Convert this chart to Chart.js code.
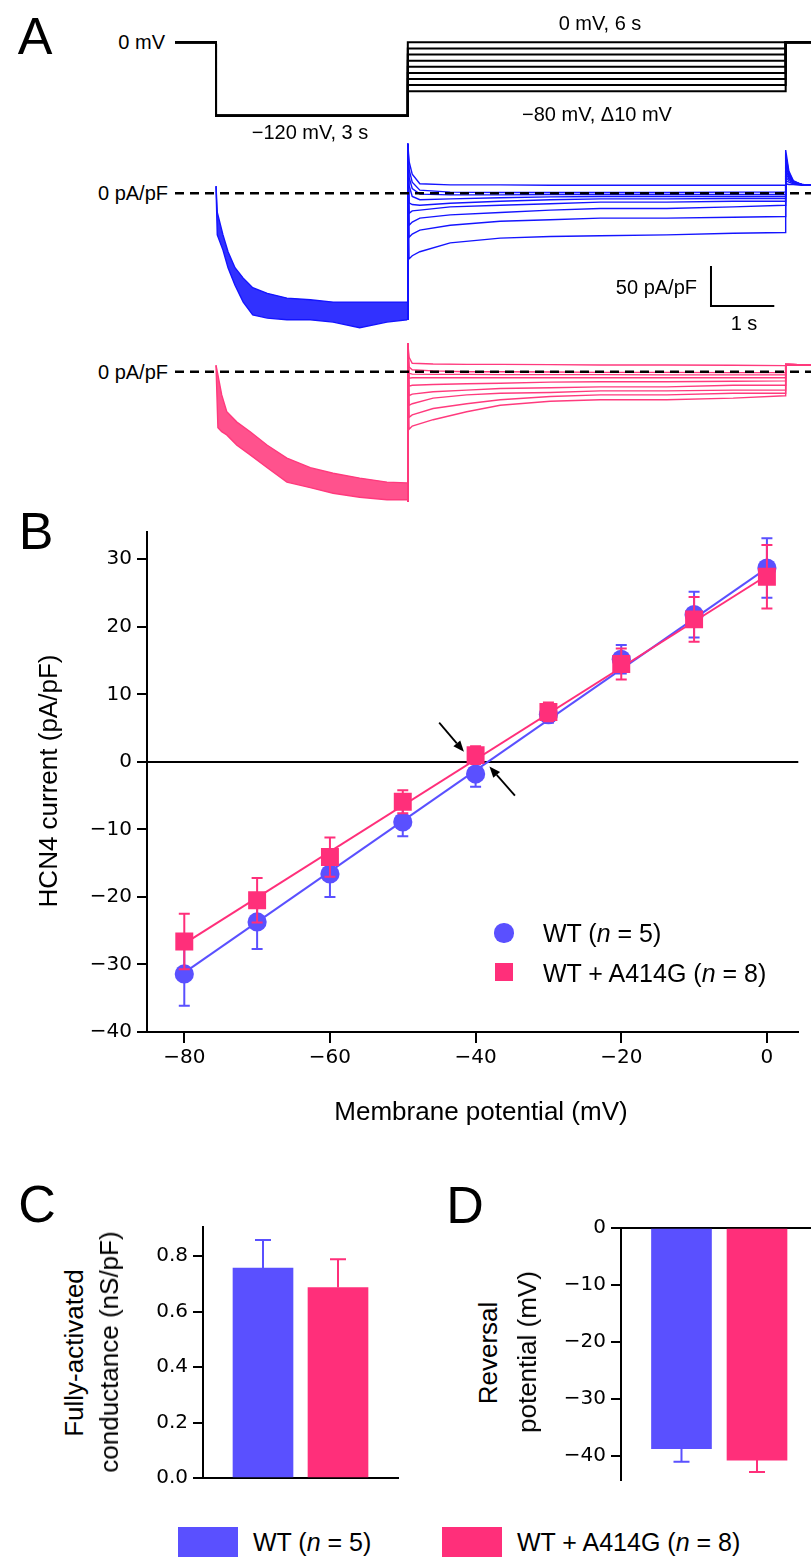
<!DOCTYPE html>
<html>
<head>
<meta charset="utf-8">
<script src="https://cdn.jsdelivr.net/npm/chart.js@4.4.1/dist/chart.umd.min.js"></script>
<style>
  html, body { margin: 0; padding: 0; background: #fff; }
  #fig { position: relative; width: 811px; height: 1557px; overflow: hidden; font-family: "Liberation Sans", Arial, sans-serif; color: #000; }
  #fig canvas { position: absolute; }
  .lbl { position: absolute; white-space: nowrap; line-height: 1; }
  .caja { position: absolute; }
</style>
</head>
<body>
<div id="fig">
  <canvas id="protocolo" style="left:175px;top:0px" width="636" height="135"></canvas>
  <canvas id="trazoWT" style="left:175px;top:135px" width="636" height="200"></canvas>
  <canvas id="trazoMut" style="left:175px;top:335px" width="636" height="175"></canvas>
  <canvas id="graficoIV" style="left:0px;top:500px" width="811" height="620"></canvas>
  <canvas id="graficoG" style="left:100px;top:1200px" width="310" height="300"></canvas>
  <canvas id="graficoErev" style="left:520px;top:1200px" width="291" height="300"></canvas>
</div>
<script>
// Colores
const azul = '#5a50ff';
const rosa = '#ff2f7a';
const azulTrazo = '#1414ff';
const rosaTrazo = '#ff3a7d';

// ---- Panel A: protocolo (s, mV) ----
const tiempoInicio = -0.648, tiempoFinal = 9.40;
const tiempoPaso = 3.03, tiempoFin = 9.0;
const voltajeHiper = -120;
const voltajesPaso = [-80, -70, -60, -50, -40, -30, -20, -10, 0];

// ---- Panel A: corrientes WT (pA/pF) ----
const wtBandaT = [0.00, 0.02, 0.11, 0.19, 0.30, 0.43, 0.58, 0.81, 1.12, 1.49, 1.85, 2.27, 2.70, 3.02];
const wtBandaAlta = [9, -24, -52, -73, -93, -106, -118, -125, -131, -133, -136, -136, -136, -136];
const wtBandaBaja = [9, -52, -71, -93, -115, -136, -152, -156, -158, -158, -161, -168, -161, -158];
const wtInicio = -158, wtPico = 62;
const wtPasoT = [3.05, 3.10, 3.22, 3.70, 4.49, 5.28, 6.07, 7.12, 8.17, 8.99];
const wtPasos = [
  [-82, -78, -73, -62, -56, -54, -53, -52, -50, -49],
  [-55, -51, -46, -40, -35, -33, -31, -31, -30, -29],
  [-40, -36, -31, -27, -24, -21, -19, -19, -17, -15],
  [-25, -22, -21, -17, -15, -13, -11, -11, -10, -10],
  [-12, -14, -15, -12.5, -10, -8, -7, -7, -6.5, -6.5],
  [10, -4, -8, -7, -5.5, -4.5, -4, -4, -4, -4],
  [20, 6, -1, -2, -2, -1.5, -1.5, -1.5, -1.5, -1.5],
  [30, 14, 4, 1.5, 1, 1, 1, 1, 1.5, 1.5],
  [40, 24, 12, 10.5, 10.5, 10, 10, 10, 10, 10]
];
const wtColaT = [9.0, 9.05, 9.12, 9.25, 9.40];
const wtColas = [
  [54, 28, 16, 11, 10],
  [48, 26, 15, 11, 10],
  [42, 24, 15, 11, 10],
  [36, 22, 14, 11, 10],
  [30, 20, 14, 11, 10],
  [25, 18, 13, 11, 10],
  [20, 16, 13, 11, 10],
  [16, 14, 12, 11, 10],
  [12, 11, 11, 10, 10]
];
// barra de escala: 1 s, 50 pA/pF
const escalaT = 7.82, escalaI = -141, escalaDT = 1, escalaDI = 50;

// ---- Panel A: corrientes WT + A414G (pA/pF) ----
const mutBandaT = [0.00, 0.03, 0.09, 0.17, 0.33, 0.54, 0.81, 1.12, 1.49, 1.85, 2.27, 2.70, 3.02];
const mutBandaAlta = [8, -4, -29, -50, -63, -75, -92, -108, -120, -127, -133, -138, -139];
const mutBandaBaja = [8, -70, -75, -79, -92, -104, -120, -138, -145, -152, -157, -160, -160];
const mutInicio = -163, mutPico = 35.5;
const mutPasoT = [3.05, 3.10, 3.43, 3.96, 4.49, 5.28, 6.07, 7.12, 8.17, 8.99];
const mutPasos = [
  [-72, -68, -60, -50, -42, -37, -35, -35, -33, -30],
  [-57, -54, -46, -40, -35, -31, -29, -29, -27, -27],
  [-42, -40, -33, -29, -27, -26, -24, -24, -23, -23],
  [-30, -28, -25, -23, -21, -20, -19, -19, -17, -17],
  [-18, -17, -16, -15, -14.5, -13, -12.5, -12.5, -12, -11.5],
  [-8, -7.5, -7.5, -7.5, -7.5, -7.5, -7.5, -7.5, -7.5, -7.5],
  [-2, -3, -3.3, -3.3, -3.7, -3.7, -3.7, -4, -4, -4],
  [6, 2.5, 1, 0, 0, -0.3, -0.8, -0.8, -1.2, -1.2],
  [18, 10.5, 9.6, 9.2, 9.2, 8.8, 8.4, 8.4, 8, 7.6]
];
const mutColaT = [9.0, 9.40];
const mutCola = [9, 8.5];

// ---- Panel B: curva I-V ----
const voltajes = [-80, -70, -60, -50, -40, -30, -20, -10, 0];
const wtMedia = [-31.4, -23.7, -16.6, -8.9, -1.8, 7.0, 15.2, 21.8, 28.7];
const wtError = [4.7, 4.0, 3.4, 2.1, 1.9, 1.2, 2.1, 3.4, 4.4];
const mutMedia = [-26.6, -20.5, -14.1, -5.9, 1.0, 7.4, 14.5, 21.1, 27.4];
const mutError = [4.1, 3.3, 2.9, 1.7, 1.3, 1.4, 2.3, 3.3, 4.7];
const ajusteV = [-80, 0];
const wtAjuste = [-31.2, 28.7];
const mutAjuste = [-26.9, 27.6];
const flechas = [[-45.0, 5.8, -41.6, 1.5], [-34.6, -5.0, -38.1, -0.7]];
const ticksIVx = [-80, -60, -40, -20, 0];
const ticksIVy = [-40, -30, -20, -10, 0, 10, 20, 30];

// ---- Paneles C y D ----
const grupos = ['WT (n = 5)', 'WT + A414G (n = 8)'];
const conductancia = [0.757, 0.687];
const conductanciaError = [0.101, 0.102];
const ticksG = [0, 0.2, 0.4, 0.6, 0.8];
const reversion = [-38.8, -40.8];
const reversionError = [2.3, 2.1];
const ticksErev = [-40, -30, -20, -10, 0];

// ---- utilidades ----
const puntos = (xs, ys) => xs.map((x, i) => ({ x: x, y: ys[i] }));
const menos = v => (v < 0 ? '\u2212' + Math.abs(v) : String(v));
const fuenteTicks = { family: 'DejaVu Sans', size: 20 };

// deja solo los ticks de la lista
function fijarTicks(lista) {
  return s => { s.ticks = lista.map(v => ({ value: v })); };
}

function opcionesTrazo(ymin, ymax) {
  return {
    responsive: false, animation: false, events: [],
    layout: { padding: 0 },
    plugins: { legend: { display: false }, tooltip: { enabled: false } },
    elements: { point: { radius: 0 }, line: { tension: 0 } },
    scales: {
      x: { type: 'linear', display: false, min: tiempoInicio, max: tiempoFinal },
      y: { type: 'linear', display: false, min: ymin, max: ymax }
    }
  };
}

function trazo(inicio, pico, pasoT, valores, colaT, cola, color) {
  return {
    data: [{ x: tiempoPaso, y: inicio }, { x: tiempoPaso, y: pico }, ...puntos(pasoT, valores), ...puntos(colaT, cola)],
    showLine: true, borderColor: color, borderWidth: 1.4, pointRadius: 0
  };
}

function lineaCero() {
  return { data: [{ x: tiempoInicio, y: 0 }, { x: tiempoFinal, y: 0 }], showLine: true, borderColor: '#000', borderWidth: 2.5, borderDash: [9, 6], pointRadius: 0 };
}

// Barras de error (dibujadas con las escalas del gráfico)
function dibujarErrores(chart, indice) {
  const ds = chart.data.datasets[indice];
  if (!ds.errores) return;
  const ctx = chart.ctx, x = chart.scales.x, y = chart.scales.y;
  ctx.save();
  ctx.lineWidth = 2;
  ds.data.forEach((p, k) => {
    const e = ds.errores[k];
    const px = x.getPixelForValue(p.x);
    let yA, yB;
    if (ds.soloFuera) {
      yA = y.getPixelForValue(p.y);
      yB = y.getPixelForValue(p.y + Math.sign(p.y) * e);
    } else {
      yA = y.getPixelForValue(p.y + e);
      yB = y.getPixelForValue(p.y - e);
    }
    ctx.strokeStyle = Array.isArray(ds.colorError) ? ds.colorError[k] : ds.colorError;
    const m = ds.anchoTope / 2;
    ctx.beginPath();
    ctx.moveTo(px, yA); ctx.lineTo(px, yB);
    ctx.moveTo(px - m, yB); ctx.lineTo(px + m, yB);
    if (!ds.soloFuera) { ctx.moveTo(px - m, yA); ctx.lineTo(px + m, yA); }
    ctx.stroke();
  });
  ctx.restore();
}
const barrasError = {
  id: 'barrasError',
  beforeDatasetDraw(chart, args) { if (!chart.data.datasets[args.index].errorEncima) dibujarErrores(chart, args.index); },
  afterDatasetDraw(chart, args) { if (chart.data.datasets[args.index].errorEncima) dibujarErrores(chart, args.index); }
};

const ejeCero = {
  id: 'ejeCero',
  beforeDatasetsDraw(chart) {
    const a = chart.chartArea, py = chart.scales.y.getPixelForValue(0), ctx = chart.ctx;
    ctx.save(); ctx.strokeStyle = '#000'; ctx.lineWidth = 2;
    ctx.beginPath(); ctx.moveTo(a.left, py); ctx.lineTo(a.right, py); ctx.stroke();
    ctx.restore();
  }
};

const dibujoFlechas = {
  id: 'flechas',
  afterDatasetsDraw(chart) {
    const ctx = chart.ctx, x = chart.scales.x, y = chart.scales.y;
    ctx.save(); ctx.strokeStyle = '#000'; ctx.fillStyle = '#000'; ctx.lineWidth = 1.8;
    flechas.forEach(f => {
      const x0 = x.getPixelForValue(f[0]), y0 = y.getPixelForValue(f[1]);
      const x1 = x.getPixelForValue(f[2]), y1 = y.getPixelForValue(f[3]);
      const ang = Math.atan2(y1 - y0, x1 - x0);
      const largo = 11, ancho = 4.5;
      const bx = x1 - largo * Math.cos(ang), by = y1 - largo * Math.sin(ang);
      ctx.beginPath(); ctx.moveTo(x0, y0); ctx.lineTo(bx, by); ctx.stroke();
      ctx.beginPath();
      ctx.moveTo(x1, y1);
      ctx.lineTo(bx + ancho * Math.sin(ang), by - ancho * Math.cos(ang));
      ctx.lineTo(bx - ancho * Math.sin(ang), by + ancho * Math.cos(ang));
      ctx.closePath(); ctx.fill();
    });
    ctx.restore();
  }
};

const barraEscala = {
  id: 'barraEscala',
  afterDatasetsDraw(chart) {
    const ctx = chart.ctx, x = chart.scales.x, y = chart.scales.y;
    const x0 = x.getPixelForValue(escalaT), x1 = x.getPixelForValue(escalaT + escalaDT);
    const y0 = y.getPixelForValue(escalaI), y1 = y.getPixelForValue(escalaI + escalaDI);
    ctx.save(); ctx.strokeStyle = '#000'; ctx.lineWidth = 2;
    ctx.beginPath(); ctx.moveTo(x0, y1); ctx.lineTo(x0, y0); ctx.lineTo(x1, y0); ctx.stroke();
    ctx.restore();
  }
};

// ---- Protocolo de voltaje ----
new Chart(document.getElementById('protocolo'), {
  type: 'scatter',
  data: {
    datasets: voltajesPaso.map(v => ({
      data: [
        { x: tiempoInicio, y: 0 }, { x: 0, y: 0 }, { x: 0, y: voltajeHiper }, { x: tiempoPaso, y: voltajeHiper },
        { x: tiempoPaso, y: v }, { x: tiempoFin, y: v }, { x: tiempoFin, y: 0 }, { x: tiempoFinal, y: 0 }
      ],
      showLine: true, borderColor: '#000', borderWidth: 2, pointRadius: 0
    }))
  },
  options: opcionesTrazo(-151.5, 69.1)
});

// ---- Trazos WT ----
new Chart(document.getElementById('trazoWT'), {
  type: 'scatter',
  data: {
    datasets: [
      lineaCero(),
      ...wtPasos.map((vals, k) => trazo(wtInicio, wtPico, wtPasoT, vals, wtColaT, wtColas[k], azulTrazo)),
      { data: puntos(wtBandaT, wtBandaAlta), showLine: true, borderColor: azulTrazo, borderWidth: 1.4, pointRadius: 0, fill: '+1', backgroundColor: 'rgba(20,20,255,0.88)' },
      { data: puntos(wtBandaT, wtBandaBaja), showLine: true, borderColor: azulTrazo, borderWidth: 1.4, pointRadius: 0 }
    ]
  },
  options: opcionesTrazo(-177.1, 72.9),
  plugins: [barraEscala]
});

// ---- Trazos WT + A414G ----
new Chart(document.getElementById('trazoMut'), {
  type: 'scatter',
  data: {
    datasets: [
      lineaCero(),
      ...mutPasos.map(vals => trazo(mutInicio, mutPico, mutPasoT, vals, mutColaT, mutCola, rosaTrazo)),
      { data: puntos(mutBandaT, mutBandaAlta), showLine: true, borderColor: rosaTrazo, borderWidth: 1.4, pointRadius: 0, fill: '+1', backgroundColor: 'rgba(255,58,125,0.88)' },
      { data: puntos(mutBandaT, mutBandaBaja), showLine: true, borderColor: rosaTrazo, borderWidth: 1.4, pointRadius: 0 }
    ]
  },
  options: opcionesTrazo(-172.9, 45.9)
});

// ---- Panel B: I-V ----
new Chart(document.getElementById('graficoIV'), {
  type: 'scatter',
  data: {
    datasets: [
      { data: puntos(voltajes, mutMedia), errores: mutError, colorError: rosa, anchoTope: 11,
        pointStyle: 'rect', pointRadius: 12.7, pointBackgroundColor: rosa, pointBorderWidth: 0, order: 0 },
      { data: puntos(ajusteV, mutAjuste), showLine: true, borderColor: rosa, borderWidth: 2, pointRadius: 0, order: 1 },
      { data: puntos(voltajes, wtMedia), errores: wtError, colorError: azul, anchoTope: 11,
        pointStyle: 'circle', pointRadius: 9.6, pointBackgroundColor: azul, pointBorderWidth: 0, order: 2 },
      { data: puntos(ajusteV, wtAjuste), showLine: true, borderColor: azul, borderWidth: 2, pointRadius: 0, order: 3 }
    ]
  },
  options: {
    responsive: false, animation: false, events: [],
    layout: { padding: { top: 32, left: 0, right: 0, bottom: 0 } },
    plugins: { legend: { display: false }, tooltip: { enabled: false } },
    scales: {
      x: {
        type: 'linear', min: -85.12, max: 4.31,
        afterBuildTicks: fijarTicks(ticksIVx),
        afterFit: s => { s.height = 88; },
        grid: { display: true, drawOnChartArea: false, drawTicks: true, tickLength: 11, color: '#000', lineWidth: 2 },
        border: { display: true, color: '#000', width: 2 },
        ticks: { color: '#000', font: fuenteTicks, padding: 3, callback: menos, autoSkip: false, maxRotation: 0, includeBounds: false }
      },
      y: {
        type: 'linear', min: -40, max: 34.04,
        afterBuildTicks: fijarTicks(ticksIVy),
        afterFit: s => { s.width = 147; },
        grid: { display: true, drawOnChartArea: false, drawTicks: true, tickLength: 10, color: '#000', lineWidth: 2 },
        border: { display: true, color: '#000', width: 2 },
        ticks: { color: '#000', font: fuenteTicks, padding: 5, callback: menos, autoSkip: false, includeBounds: false }
      }
    }
  },
  plugins: [ejeCero, barrasError, dibujoFlechas]
});

// ---- Panel C: conductancia ----
new Chart(document.getElementById('graficoG'), {
  type: 'bar',
  data: {
    datasets: [{
      data: conductancia.map((v, i) => ({ x: i + 1, y: v })),
      backgroundColor: [azul, rosa], barThickness: 60,
      errores: conductanciaError, colorError: [azul, rosa], anchoTope: 16, soloFuera: true, errorEncima: true
    }]
  },
  options: {
    responsive: false, animation: false, events: [],
    layout: { padding: { top: 27, right: 12, left: 0, bottom: 0 } },
    plugins: { legend: { display: false }, tooltip: { enabled: false } },
    scales: {
      x: {
        type: 'linear', min: 0.2, max: 2.8, offset: false,
        afterFit: s => { s.height = 22; },
        grid: { display: false }, ticks: { display: false },
        border: { display: true, color: '#000', width: 2 }
      },
      y: {
        type: 'linear', min: 0, max: 0.905,
        afterBuildTicks: fijarTicks(ticksG),
        afterFit: s => { s.width = 103; },
        grid: { display: true, drawOnChartArea: false, drawTicks: true, tickLength: 10, color: '#000', lineWidth: 2 },
        border: { display: true, color: '#000', width: 2 },
        ticks: { color: '#000', font: fuenteTicks, padding: 5, autoSkip: false, includeBounds: false, callback: v => v.toFixed(1) }
      }
    }
  },
  plugins: [barrasError]
});

// ---- Panel D: potencial de reversión ----
new Chart(document.getElementById('graficoErev'), {
  type: 'bar',
  data: {
    datasets: [{
      data: reversion.map((v, i) => ({ x: i + 1, y: v })),
      backgroundColor: [azul, rosa], barThickness: 60,
      errores: reversionError, colorError: [azul, rosa], anchoTope: 16, soloFuera: true, errorEncima: true
    }]
  },
  options: {
    responsive: false, animation: false, events: [],
    layout: { padding: { top: 28, right: 0, left: 0, bottom: 20 } },
    plugins: { legend: { display: false }, tooltip: { enabled: false } },
    scales: {
      x: {
        type: 'linear', position: 'top', min: 0.199, max: 2.715, offset: false,
        afterFit: s => { s.height = 0; },
        grid: { display: false }, ticks: { display: false },
        border: { display: true, color: '#000', width: 2 }
      },
      y: {
        type: 'linear', min: -44.3, max: 0,
        afterBuildTicks: fijarTicks(ticksErev),
        afterFit: s => { s.width = 101; },
        grid: { display: true, drawOnChartArea: false, drawTicks: true, tickLength: 10, color: '#000', lineWidth: 2 },
        border: { display: true, color: '#000', width: 2 },
        ticks: { color: '#000', font: fuenteTicks, padding: 5, autoSkip: false, includeBounds: false, callback: menos }
      }
    }
  },
  plugins: [barrasError]
});

// ---- Textos ----
const figura = document.getElementById('fig');
function texto(html, x, y, opc = {}) {
  const d = document.createElement('div');
  d.className = 'lbl';
  d.innerHTML = html;
  d.style.left = x + 'px';
  d.style.top = y + 'px';
  d.style.fontSize = (opc.tam || 20) + 'px';
  const ax = opc.alinear === 'izq' ? '0' : opc.alinear === 'der' ? '-100%' : '-50%';
  d.style.transform = 'translate(' + ax + ', -50%)' + (opc.rotar ? ' rotate(-90deg)' : '');
  figura.appendChild(d);
}
function caja(x, y, w, h, color, redondo) {
  const d = document.createElement('div');
  d.className = 'caja';
  d.style.left = x + 'px'; d.style.top = y + 'px';
  d.style.width = w + 'px'; d.style.height = h + 'px';
  d.style.background = color;
  if (redondo) d.style.borderRadius = '50%';
  figura.appendChild(d);
}

// letras de panel
texto('A', 35, 36, { tam: 52 });
texto('B', 36, 531, { tam: 52 });
texto('C', 37, 1204, { tam: 52 });
texto('D', 465, 1205, { tam: 52 });

// panel A
texto('0 mV', 165, 42, { alinear: 'der' });
texto('0 mV, 6 s', 600, 23);
texto('\u221280 mV, \u039410 mV', 597, 114);
texto('\u2212120 mV, 3 s', 310, 132);
texto('0 pA/pF', 168, 193, { alinear: 'der' });
texto('0 pA/pF', 168, 372, { alinear: 'der' });
texto('50 pA/pF', 697, 287, { alinear: 'der' });
texto('1 s', 744, 323);

// panel B
texto('HCN4 current (pA/pF)', 48, 781, { tam: 26, rotar: true });
texto('Membrane potential (mV)', 481, 1111, { tam: 26 });
caja(494.4, 923.4, 19.2, 19.2, azul, true);
caja(495, 963, 18, 18, rosa);
texto('WT (<i>n</i> = 5)', 543, 933, { tam: 25, alinear: 'izq' });
texto('WT + A414G (<i>n</i> = 8)', 543, 973, { tam: 25, alinear: 'izq' });

// panel C y D
texto('Fully-activated', 74, 1353, { tam: 26, rotar: true });
texto('conductance (nS/pF)', 109, 1352, { tam: 26, rotar: true });
texto('Reversal', 488, 1353, { tam: 26, rotar: true });
texto('potential (mV)', 527, 1352, { tam: 26, rotar: true });

// leyenda inferior
caja(178, 1527, 60, 40, azul);
caja(442, 1527, 60, 40, rosa);
texto(grupos[0].replace('n =', '<i>n</i> ='), 253, 1542, { tam: 25, alinear: 'izq' });
texto(grupos[1].replace('n =', '<i>n</i> ='), 517, 1542, { tam: 25, alinear: 'izq' });
</script>
</body>
</html>
